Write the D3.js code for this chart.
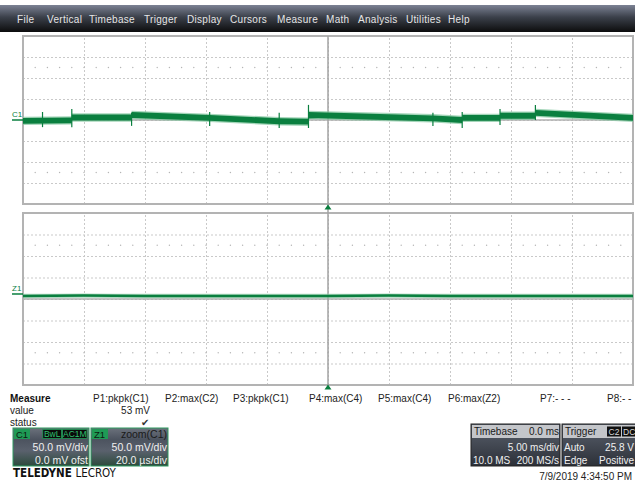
<!DOCTYPE html>
<html><head><meta charset="utf-8">
<script src="https://cdn.jsdelivr.net/npm/d3@7/dist/d3.min.js"></script>
<style>
html,body{margin:0;padding:0;background:#fff;}
svg{display:block;font-family:"Liberation Sans",Arial,sans-serif;}
</style></head><body>
<svg id="c" width="635" height="483"></svg>
<script>
// ---------- data ----------
const menuItems = ["File","Vertical","Timebase","Trigger","Display","Cursors","Measure","Math","Analysis","Utilities","Help"];
const menuX = [17,47,89,144,187,230,277,326,358,406,448];

// C1 trace (time in ms, level in mV), 5 ms/div, 50 mV/div
const c1Time  = [-25, -21.0, -21.0, -16.1, -16.1, -9.7, -4.0, -1.6, -1.6, 8.6, 11.0, 11.0, 14.1, 14.1, 17.0, 17.0, 25];
const c1Level = [-2,  -1,     6,     6,     12,    5,   -3,   -4,   12,   4,   0,    5,    5,    10,   10,   17,   5];
// glitches on C1
const spikeTime = [-23.4, -21.0, -16.1, -9.7, -4.0, -1.6, 8.6, 11.0, 14.1, 17.0];
const spikeMax  = [19, 26, 17, 19, 17, 36, 17, 19, 26, 36];
const spikeMin  = [-17, -17, -14, -14, -19, -19, -14, -19, -12, 0];

// Z1 zoom trace (time in µs, 20 µs/div)
const z1Time  = [-100, -80, -60, -40, -20, 0, 20, 40, 60, 80, 100];
const z1Level = [7, 8, 7, 7, 7, 7, 8, 7, 7, 7, 7];

const measureNames = ["P1:pkpk(C1)","P2:max(C2)","P3:pkpk(C1)","P4:max(C4)","P5:max(C4)","P6:max(Z2)","P7:- - -","P8:- -"];
const measureX = [93,165,233,309,378,448,540,607];
const measureValues = ["53 mV","","","","","","",""];

const c1Info = ["50.0 mV/div","0.0 mV ofst"];
const z1Info = ["zoom(C1)","50.0 mV/div","20.0 µs/div"];
const timebaseInfo = ["0.0 ms","5.00 ms/div","10.0 MS","200 MS/s"];
const triggerInfo = ["Auto","25.8 V","Edge","Positive"];
const timestamp = "7/9/2019 4:34:50 PM";

// ---------- drawing ----------
const svg = d3.select("#c");
const defs = svg.append("defs");
const gBar = defs.append("linearGradient").attr("id","bar").attr("x1",0).attr("y1",0).attr("x2",0).attr("y2",1);
gBar.append("stop").attr("offset","0%").attr("stop-color","#7c8294");
gBar.append("stop").attr("offset","45%").attr("stop-color","#3b404a");
gBar.append("stop").attr("offset","100%").attr("stop-color","#0c0c0d");
const gBox = defs.append("linearGradient").attr("id","box").attr("x1",0).attr("y1",0).attr("x2",0).attr("y2",1);
gBox.append("stop").attr("offset","0%").attr("stop-color","#6b717c");
gBox.append("stop").attr("offset","30%").attr("stop-color","#4c535f");
gBox.append("stop").attr("offset","60%").attr("stop-color","#5a616d");
gBox.append("stop").attr("offset","100%").attr("stop-color","#2c4a3c");
const gBox2 = defs.append("linearGradient").attr("id","box2").attr("x1",0).attr("y1",0).attr("x2",0).attr("y2",1);
gBox2.append("stop").attr("offset","0%").attr("stop-color","#5a616d");
gBox2.append("stop").attr("offset","100%").attr("stop-color","#2c3038");

// menu bar
svg.append("rect").attr("x",0).attr("y",5).attr("width",635).attr("height",27).attr("fill","url(#bar)");
svg.selectAll("text.menu").data(menuItems).join("text")
  .attr("class","menu").attr("x",(d,i)=>menuX[i]).attr("y",23)
  .attr("font-size",10).attr("letter-spacing",0.3).attr("fill","#e6e6e6").text(d=>d);

const GREEN = "#0a7f3f";
const x = d3.scaleLinear().domain([-25,25]).range([23,633]);
const xz = d3.scaleLinear().domain([-100,100]).range([23,633]);
const yU = d3.scaleLinear().domain([-200,200]).range([204,36]);
const yL = d3.scaleLinear().domain([-200,200]).range([385,213]);

function grid(y, top, bottom) {
  const g = svg.append("g");
  const ax = g.append("g").attr("transform",`translate(0,${bottom})`)
    .call(d3.axisBottom(x).tickValues(d3.range(-20,25,5)).tickSize(-(bottom-top)).tickFormat(""));
  ax.select(".domain").remove();
  ax.selectAll("line").attr("stroke","#c9c9c9").attr("stroke-dasharray","2,2");
  const ay = g.append("g").attr("transform",`translate(23,0)`)
    .call(d3.axisLeft(y).tickValues(d3.range(-150,200,50)).tickSize(-610).tickFormat(""));
  ay.select(".domain").remove();
  ay.selectAll("line").attr("stroke","#c9c9c9").attr("stroke-dasharray","2,2");
  [-125,125].forEach(v=>{
    g.selectAll(null).data(d3.range(-25,25.01,1)).join("circle")
      .attr("cx",d=>x(d)).attr("cy",y(v)).attr("r",0.7).attr("fill","#b5b5b5");
  });
  g.append("line").attr("x1",23).attr("x2",633).attr("y1",y(0)).attr("y2",y(0))
    .attr("stroke","#b0b0b0").attr("stroke-width",1.5);
  g.append("rect").attr("x",23).attr("y",top).attr("width",610).attr("height",bottom-top)
    .attr("fill","none").attr("stroke","#b3b3b3").attr("stroke-width",2);
}
grid(yU,36,204);
grid(yL,213,385);
svg.append("line").attr("x1",x(0)).attr("x2",x(0)).attr("y1",36).attr("y2",385)
  .attr("stroke","#a3a3a3").attr("stroke-width",1.5);

// C1 trace
const c1 = c1Time.map((t,i)=>({t, v:c1Level[i]}));
svg.append("path").datum(c1)
  .attr("d", d3.area().x(d=>x(d.t)).y0(d=>yU(d.v-10)).y1(d=>yU(d.v+10)))
  .attr("fill","#7fc49d").attr("opacity",0.7);
svg.append("path").datum(c1)
  .attr("d", d3.area().x(d=>x(d.t)).y0(d=>yU(d.v-7)).y1(d=>yU(d.v+7)))
  .attr("fill",GREEN);
svg.selectAll("line.spike").data(spikeTime).join("line").attr("class","spike")
  .attr("x1",d=>x(d)).attr("x2",d=>x(d))
  .attr("y1",(d,i)=>yU(spikeMax[i])).attr("y2",(d,i)=>yU(spikeMin[i]))
  .attr("stroke",GREEN).attr("stroke-width",1.2);

// Z1 trace
const z1 = z1Time.map((t,i)=>({t, v:z1Level[i]}));
svg.append("path").datum(z1)
  .attr("d", d3.area().x(d=>xz(d.t)).y0(d=>yL(d.v-5)).y1(d=>yL(d.v+5)).curve(d3.curveMonotoneX))
  .attr("fill","#8fcaa8").attr("opacity",0.7);
svg.append("path").datum(z1)
  .attr("d", d3.area().x(d=>xz(d.t)).y0(d=>yL(d.v-3)).y1(d=>yL(d.v+3)).curve(d3.curveMonotoneX))
  .attr("fill",GREEN);

function chLabel(txt, yy){
  svg.append("text").attr("x",12).attr("y",yy-3).attr("font-size",8).attr("fill",GREEN).text(txt);
  svg.append("line").attr("x1",12).attr("x2",23).attr("y1",yy).attr("y2",yy).attr("stroke",GREEN).attr("stroke-width",1.5);
}
chLabel("C1", yU(0));
chLabel("Z1", yL(7)-2);

[204.5, 384.5].forEach(yy=>{
  svg.append("path").attr("d",`M${x(0)},${yy} l-3.5,5 l7,0 z`).attr("fill",GREEN);
});

// measure table
const FS = 10;
svg.append("text").attr("x",10).attr("y",402).attr("font-size",FS).attr("font-weight","bold").attr("fill","#111").text("Measure");
svg.append("text").attr("x",10).attr("y",414).attr("font-size",FS).attr("fill","#222").text("value");
svg.append("text").attr("x",10).attr("y",426).attr("font-size",FS).attr("fill","#222").text("status");
svg.selectAll("text.mname").data(measureNames).join("text").attr("class","mname")
  .attr("x",(d,i)=>measureX[i]).attr("y",402).attr("font-size",FS).attr("fill","#222").text(d=>d);
svg.selectAll("text.mval").data(measureValues).join("text").attr("class","mval")
  .attr("x",150).attr("y",414).attr("text-anchor","end").attr("font-size",FS).attr("fill","#222").text(d=>d);
svg.append("text").attr("x",149).attr("y",426).attr("text-anchor","end").attr("font-size",10).attr("fill","#333").text("✔");

function chanBox(x0, w, label, lines, tags) {
  svg.append("rect").attr("x",x0).attr("y",428).attr("width",w).attr("height",38)
    .attr("fill","url(#box)").attr("stroke","#2f9a60").attr("stroke-width",1);
  svg.append("rect").attr("x",x0+1).attr("y",429).attr("width",16).attr("height",10).attr("fill","#1f9a55");
  svg.append("text").attr("x",x0+3).attr("y",437.5).attr("font-size",9.5).attr("fill","#0b1a10").text(label);
  let tx = x0+w-2;
  tags.slice().reverse().forEach(t=>{
    const tw = t.length*5.6+2;
    svg.append("rect").attr("x",tx-tw).attr("y",429.5).attr("width",tw).attr("height",9).attr("fill","#0a0a0a").attr("stroke","#1f9a55").attr("stroke-width",0.8);
    svg.append("text").attr("x",tx-tw/2).attr("y",437).attr("text-anchor","middle").attr("font-size",8.5).attr("fill","#2fc070").text(t);
    tx -= tw+1;
  });
  const ys = lines.length===3 ? [437.5,451,464] : [451,464];
  lines.forEach((l,i)=>{
    svg.append("text").attr("x",x0+w-1).attr("y",ys[i]).attr("text-anchor","end")
      .attr("font-size",10.5).attr("fill", lines.length===3 && i===0 ? "#1a1a1a" : "#f0f0f0").text(l);
  });
}
chanBox(13, 76, "C1", c1Info, ["BwL","AC1M"]);
chanBox(91, 77, "Z1", z1Info, []);

svg.append("text").attr("x",13).attr("y",477).attr("font-size",11.5).attr("fill","#111")
  .attr("font-family","'Liberation Sans Narrow','DejaVu Sans Condensed',Arial,sans-serif")
  .call(t=>{t.append("tspan").attr("font-weight","bold").text("TELEDYNE ");t.append("tspan").text("LECROY");});

function infoBox(x0, w, title) {
  svg.append("rect").attr("x",x0).attr("y",424).attr("width",w).attr("height",42).attr("fill","url(#box2)").attr("stroke","#222").attr("stroke-width",1);
  svg.append("rect").attr("x",x0+1).attr("y",425).attr("width",w-2).attr("height",13).attr("fill","#c4c6ca");
  svg.append("text").attr("x",x0+3).attr("y",435).attr("font-size",10).attr("fill","#1a1a1a").text(title);
}
infoBox(471, 89, "Timebase");
svg.append("text").attr("x",559).attr("y",435).attr("text-anchor","end").attr("font-size",10).attr("fill","#1a1a1a").text(timebaseInfo[0]);
svg.append("text").attr("x",559).attr("y",451).attr("text-anchor","end").attr("font-size",10).attr("fill","#f0f0f0").text(timebaseInfo[1]);
svg.append("text").attr("x",473).attr("y",464).attr("font-size",10).attr("fill","#f0f0f0").text(timebaseInfo[2]);
svg.append("text").attr("x",559).attr("y",464).attr("text-anchor","end").attr("font-size",10).attr("fill","#f0f0f0").text(timebaseInfo[3]);

infoBox(562, 76, "Trigger");
svg.append("rect").attr("x",607).attr("y",426.5).attr("width",14).attr("height",10).attr("fill","#111");
svg.append("text").attr("x",614).attr("y",435).attr("text-anchor","middle").attr("font-size",8.5).attr("fill","#d8d8d8").text("C2");
svg.append("rect").attr("x",622).attr("y",426.5).attr("width",14).attr("height",10).attr("fill","#111");
svg.append("text").attr("x",623).attr("y",435).attr("font-size",8.5).attr("fill","#d8d8d8").text("DC");
svg.append("text").attr("x",564).attr("y",451).attr("font-size",10).attr("fill","#f0f0f0").text(triggerInfo[0]);
svg.append("text").attr("x",634).attr("y",451).attr("text-anchor","end").attr("font-size",10).attr("fill","#f0f0f0").text(triggerInfo[1]);
svg.append("text").attr("x",564).attr("y",464).attr("font-size",10).attr("fill","#f0f0f0").text(triggerInfo[2]);
svg.append("text").attr("x",634).attr("y",464).attr("text-anchor","end").attr("font-size",10).attr("fill","#f0f0f0").text(triggerInfo[3]);

svg.append("text").attr("x",632).attr("y",480).attr("text-anchor","end").attr("font-size",10).attr("fill","#222").text(timestamp);
</script>
</body></html>
